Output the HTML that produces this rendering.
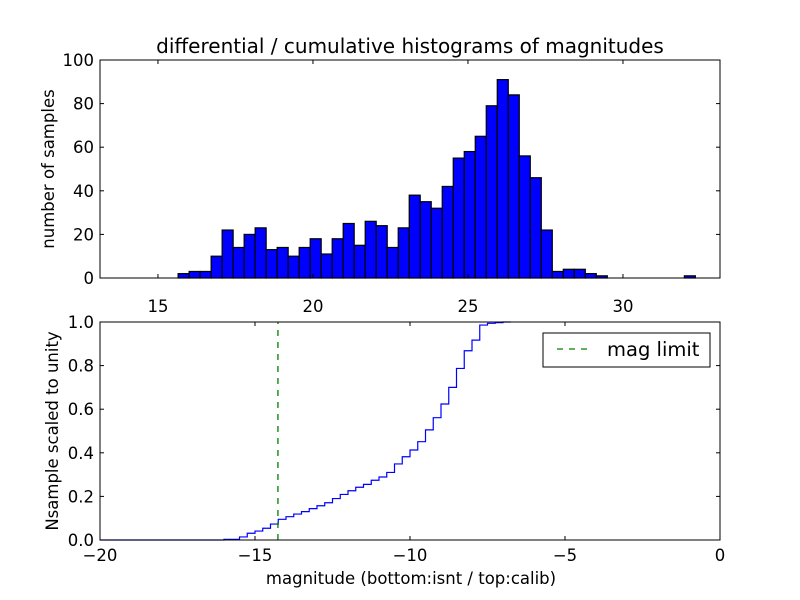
<!DOCTYPE html>
<html><head><meta charset="utf-8"><style>
body{margin:0;background:#fff}
svg{display:block;font-family:"DejaVu Sans","Liberation Sans",sans-serif}
</style></head><body>
<svg id="c" width="800" height="600" viewBox="0 0 800 600">
<rect width="800" height="600" fill="#fff"/>
</svg>
<script>
const histCounts=[2,3,3,10,22,14,20,23,13,14,10,14,18,11,18,25,15,26,24,14,23,38,35,32,42,55,58,65,79,91,84,56,46,22,3,4,4,2,1,0,0,0,0,0,0,0,1];
const histStart=15.65, histBin=0.355;
const topXTicks=[15,20,25,30];
const topYTicks=[0,20,40,60,80,100];
const cumStart=-16.0, cumBin=0.25;
const cumValues=[0.003,0.003,0.014,0.031,0.041,0.054,0.073,0.095,0.107,0.119,0.130,0.144,0.157,0.171,0.190,0.209,0.226,0.242,0.255,0.274,0.289,0.310,0.349,0.382,0.413,0.451,0.505,0.561,0.624,0.700,0.787,0.868,0.917,0.986,0.994,0.997,1.0];
const magLimit=-14.26;
const botXTicks=[-20,-15,-10,-5,0];
const botYTicks=[0,0.2,0.4,0.6,0.8,1.0];

const NS="http://www.w3.org/2000/svg";
const svg=document.getElementById('c');
function el(t,a,p){const e=document.createElementNS(NS,t);for(const k in a)e.setAttribute(k,a[k]);(p||svg).appendChild(e);return e;}
const L=100,R=720,FS=16.5;
const tx=v=>L+(v-13.13)*31, ty=v=>278-v*2.18;
const g1=el('g',{});


histCounts.forEach((c,i)=>{if(!c)return;const x0=tx(histStart+i*histBin),x1=tx(histStart+(i+1)*histBin);
const r=el('rect',{x:x0,y:ty(c),width:x1-x0,height:ty(0)-ty(c),fill:'#0000ff',stroke:'#000','stroke-width':1.2},g1);

});
el('rect',{x:L,y:60,width:R-L,height:218,fill:'none',stroke:'#000','stroke-width':1});
topXTicks.forEach(v=>{const x=tx(v);el('line',{x1:x,x2:x,y1:278,y2:274,stroke:'#000'});el('line',{x1:x,x2:x,y1:60,y2:64,stroke:'#000'});
const t=el('text',{x:x,y:312,'text-anchor':'middle','font-size':FS});t.textContent=v;

});
topYTicks.forEach(v=>{const y=ty(v);el('line',{x1:L,x2:L+4,y1:y,y2:y,stroke:'#000'});el('line',{x1:R,x2:R-4,y1:y,y2:y,stroke:'#000'});
const t=el('text',{x:94,y:y+6,'text-anchor':'end','font-size':FS});t.textContent=v;

});
let t=el('text',{x:410,y:53,'text-anchor':'middle','font-size':20});t.textContent='differential / cumulative histograms of magnitudes';

t=el('text',{x:0,y:0,'text-anchor':'middle','font-size':FS,transform:'translate(54,169) rotate(-90)'});t.textContent='number of samples';

const bx=v=>L+(v+20)*31, by=v=>540-v*218;
let d='M'+bx(-20)+','+by(0)+' H'+bx(cumStart);
cumValues.forEach((v,i)=>{d+=' V'+by(v)+' H'+bx(cumStart+(i+1)*cumBin);});
const p=el('path',{d:d,fill:'none',stroke:'#0000ff','stroke-width':1.2});

const ml=el('line',{x1:bx(magLimit),x2:bx(magLimit),y1:by(0),y2:by(1),stroke:'#008000','stroke-width':1.3,'stroke-dasharray':'6,6'});

el('rect',{x:L,y:322,width:R-L,height:218,fill:'none',stroke:'#000','stroke-width':1});
botXTicks.forEach(v=>{const x=bx(v);el('line',{x1:x,x2:x,y1:540,y2:536,stroke:'#000'});el('line',{x1:x,x2:x,y1:322,y2:326,stroke:'#000'});
const t=el('text',{x:x,y:561,'text-anchor':'middle','font-size':FS});t.textContent=v===0?'0':'\u2212'+Math.abs(v);

});
botYTicks.forEach(v=>{const y=by(v);el('line',{x1:L,x2:L+4,y1:y,y2:y,stroke:'#000'});el('line',{x1:R,x2:R-4,y1:y,y2:y,stroke:'#000'});
const t=el('text',{x:94,y:y+6,'text-anchor':'end','font-size':FS});t.textContent=v.toFixed(1);

});
t=el('text',{x:411,y:584,'text-anchor':'middle','font-size':FS});t.textContent='magnitude (bottom:isnt / top:calib)';

t=el('text',{x:0,y:0,'text-anchor':'middle','font-size':FS,transform:'translate(58,431) rotate(-90)'});t.textContent='Nsample scaled to unity';

const lg=el('g',{});

el('rect',{x:543,y:333,width:167,height:34,fill:'#fff',stroke:'#000','stroke-width':1},lg);
el('line',{x1:557,x2:587,y1:349,y2:349,stroke:'#008000','stroke-width':1.3,'stroke-dasharray':'6,6'},lg);
t=el('text',{x:607,y:356,'font-size':19.5},lg);t.textContent='mag limit';

</script>
</body></html>
